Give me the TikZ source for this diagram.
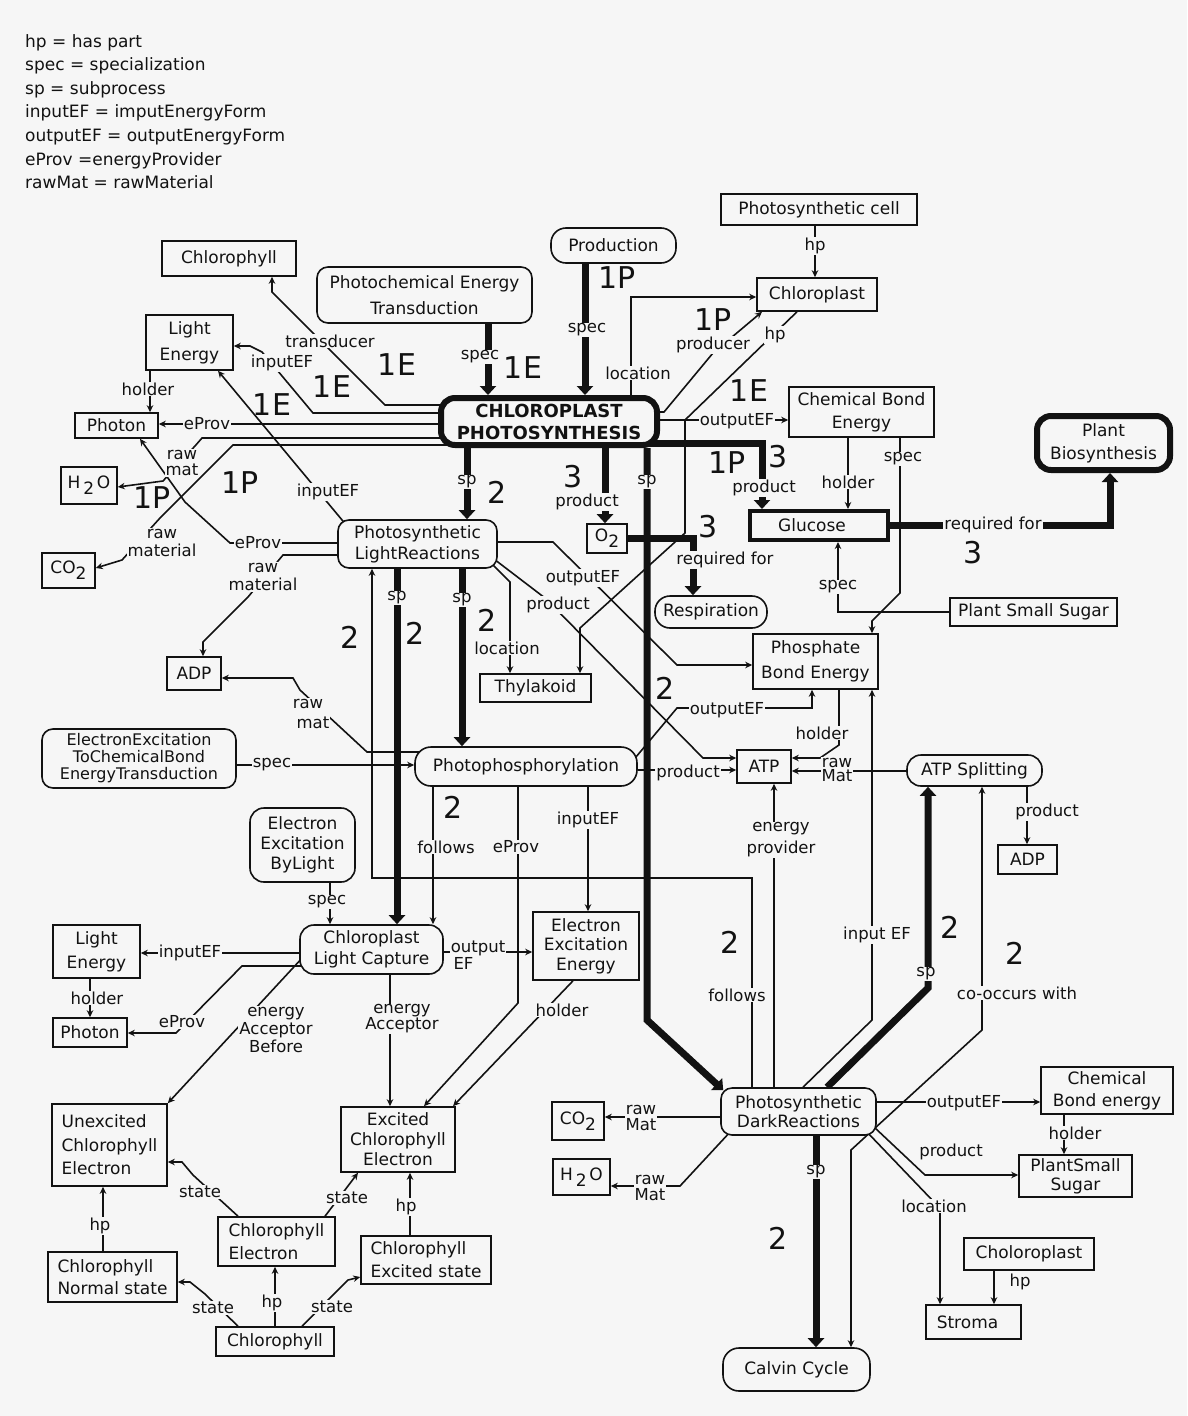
\documentclass[tikz,border=0pt]{standalone}
\usepackage{fontspec}
\setmainfont{DejaVu Sans}
\usetikzlibrary{arrows.meta,calc}
\pgfdeclarelayer{bgfill}
\pgfdeclarelayer{edges}
\pgfsetlayers{bgfill,edges,main}
\definecolor{bgc}{RGB}{246,246,246}
\definecolor{ink}{RGB}{18,18,18}
\newcommand\myfs[2]{\fontsize{#1}{#2}\selectfont}
\newcommand\subtwo{\raisebox{-0.35em}{2}}
\tikzset{
 box/.style={draw=ink, line width=1.6pt, fill=bgc, inner sep=1pt, align=center, text=ink, font=\myfs{17}{21}},
 rbox/.style={box, rounded corners=11pt},
 tbox/.style={box, line width=6pt, rounded corners=14pt},
 ln/.style={draw=ink, line width=1.6pt},
 arr/.style={ln, -{Stealth[length=7pt,width=6.5pt]}},
 barr/.style={ln, {Stealth[length=7pt,width=6.5pt]}-{Stealth[length=7pt,width=6.5pt]}},
 tk/.style={draw=ink, line width=7pt},
 tarr/.style={tk, -{Triangle[length=9pt,width=16pt]}},
 lb/.style={fill=bgc, inner sep=1pt, align=center, text=ink, font=\myfs{16.5}{17}},
 big/.style={inner sep=0pt, text=ink, font=\myfs{30}{30}},
}
\begin{document}
\begin{tikzpicture}[x=1pt,y=-1pt]
\useasboundingbox (0,0) rectangle (1187,1416);
\begin{pgfonlayer}{bgfill}
\fill[bgc] (0,0) rectangle (1187,1416);
\end{pgfonlayer}

% legend
\node[anchor=north west, align=left, inner sep=0pt, text=ink, font=\myfs{17}{23.6}] (legend) at (25,34)
 {hp = has part\\spec = specialization\\sp = subprocess\\inputEF = imputEnergyForm\\outputEF = outputEnergyForm\\eProv =energyProvider\\rawMat = rawMaterial};

% nodes
\node[box, minimum width=134pt, minimum height=35pt] (chlA) at (229,258.5) {Chlorophyll};
\node[rbox, minimum width=215pt, minimum height=56pt, font=\myfs{17}{26}] (pet) at (424.5,295) {Photochemical Energy\\Transduction};
\node[box, minimum width=87pt, minimum height=55pt, font=\myfs{17}{26}] (leA) at (189.5,342.5) {Light\\Energy};
\node[box, minimum width=83pt, minimum height=25pt] (phA) at (116.5,425.5) {Photon};
\node[box, minimum width=56pt, minimum height=37pt] (h2oA) at (89,485.5) {H\,\subtwo\,O};
\node[box, minimum width=53pt, minimum height=35pt] (co2A) at (68.5,570.5) {CO\subtwo};
\node[tbox, minimum width=216pt, minimum height=47pt, font=\bfseries\myfs{18}{22}] (cp) at (549,421.5) {CHLOROPLAST\\PHOTOSYNTHESIS};
\node[rbox, minimum width=125pt, minimum height=35pt, rounded corners=15pt] (prod) at (613.5,245.5) {Production};
\node[box, minimum width=196pt, minimum height=31pt] (pcell) at (819,209.5) {Photosynthetic cell};
\node[box, minimum width=120pt, minimum height=33pt] (chlp) at (817,294.5) {Chloroplast};
\node[box, minimum width=145pt, minimum height=50pt, font=\myfs{17}{23}] (cbe) at (861.5,412) {Chemical Bond\\Energy};
\node[tbox, minimum width=133pt, minimum height=54pt, font=\myfs{17}{23}] (pb) at (1103.5,443) {Plant\\Biosynthesis};
\node[box, line width=4pt, minimum width=138pt, minimum height=29pt] (glu) at (819,525.5) {Glucose\hspace{14pt}};
\node[box, minimum width=40pt, minimum height=29pt] (o2) at (607,538.5) {O\subtwo};
\node[rbox, minimum width=159pt, minimum height=48pt] (lr) at (417.5,544) {Photosynthetic\\LightReactions};
\node[rbox, minimum width=112pt, minimum height=32pt, rounded corners=15pt] (resp) at (711,612) {Respiration};
\node[box, minimum width=167pt, minimum height=28pt] (pss) at (1033.5,612) {Plant Small Sugar};
\node[box, minimum width=125pt, minimum height=55pt, font=\myfs{17}{25}] (pbe) at (815.5,661.5) {Phosphate\\Bond Energy};
\node[box, minimum width=111pt, minimum height=28pt] (thy) at (535.5,688) {Thylakoid};
\node[box, minimum width=54pt, minimum height=33pt] (adpA) at (194,673.5) {ADP};
\node[rbox, minimum width=194pt, minimum height=59pt, font=\myfs{16}{17}] (eet) at (139,758.5) {ElectronExcitation\\ToChemicalBond\\EnergyTransduction};
\node[rbox, minimum width=222pt, minimum height=39pt, rounded corners=16pt] (pp) at (526,766.5) {Photophosphorylation};
\node[box, minimum width=54pt, minimum height=33pt] (atp) at (764,766.5) {ATP};
\node[rbox, minimum width=135pt, minimum height=31pt, rounded corners=14pt] (atps) at (974.5,770.5) {ATP Splitting};
\node[box, minimum width=59pt, minimum height=29pt] (adpB) at (1027.5,859.5) {ADP};
\node[rbox, minimum width=105pt, minimum height=74pt, rounded corners=14pt, font=\myfs{17}{20}] (eebl) at (302.5,845) {Electron\\Excitation\\ByLight};
\node[box, minimum width=87pt, minimum height=53pt, font=\myfs{17}{24}] (leB) at (96.5,951.5) {Light\\Energy};
\node[box, minimum width=74pt, minimum height=29pt] (phB) at (90,1032.5) {Photon};
\node[rbox, minimum width=143pt, minimum height=49pt, rounded corners=14pt] (lc) at (371.5,949.5) {Chloroplast\\Light Capture};
\node[box, minimum width=106pt, minimum height=68pt, font=\myfs{17}{19.5}] (eee) at (586,946) {Electron\\Excitation\\Energy};
\node[box, minimum width=115pt, minimum height=82pt, align=left, font=\myfs{17}{23.5}] (uce) at (109.5,1145) {Unexcited\\Chlorophyll\\Electron};
\node[box, minimum width=114pt, minimum height=65pt, font=\myfs{17}{20}] (ece) at (398,1139.5) {Excited\\Chlorophyll\\Electron};
\node[box, minimum width=117pt, minimum height=49pt, align=left, font=\myfs{17}{23}] (ce) at (276.5,1241.5) {Chlorophyll\\Electron};
\node[box, minimum width=130pt, minimum height=48pt, align=left, font=\myfs{17}{23}] (ces) at (426,1260) {Chlorophyll\\Excited state};
\node[box, minimum width=129pt, minimum height=50pt, align=left, font=\myfs{17}{22}] (cns) at (112.5,1277) {Chlorophyll\\Normal state};
\node[box, minimum width=118pt, minimum height=29pt] (chlB) at (275,1341.5) {Chlorophyll};
\node[rbox, minimum width=155pt, minimum height=47pt, font=\myfs{17}{19}] (dr) at (798.5,1111.5) {Photosynthetic\\DarkReactions};
\node[box, minimum width=52pt, minimum height=38pt] (co2B) at (578,1121) {CO\subtwo};
\node[box, minimum width=57pt, minimum height=36pt] (h2oB) at (581.5,1177) {H\,\subtwo\,O};
\node[rbox, minimum width=147pt, minimum height=43pt, rounded corners=16pt] (calvin) at (796.5,1369.5) {Calvin Cycle};
\node[box, minimum width=132pt, minimum height=47pt, font=\myfs{17}{22}] (cbeB) at (1107,1090.5) {Chemical\\Bond energy};
\node[box, minimum width=113pt, minimum height=42pt, font=\myfs{17}{19}] (pssB) at (1075.5,1176) {PlantSmall\\Sugar};
\node[box, minimum width=130pt, minimum height=32pt] (cholo) at (1029,1254) {Choloroplast};
\node[box, minimum width=95pt, minimum height=34pt] (stroma) at (973.5,1322) {Stroma\hspace{12pt}};

\begin{pgfonlayer}{edges}
% top area
\draw[tarr] (pet.south -| 488,0) -- (cp.north -| 488,0);
\draw[tarr] (prod.south -| 585,0) -- (cp.north -| 585,0);
\draw[arr] (cp.center -| 631,0) |- (chlp.west |- 0,297);
\draw[arr] (cp.center |- 0,412) -- (664,412) -- (713,353) -- (chlp.south -| 762,0);
\draw[arr] (chlp.south -| 797,0) -- (685,420) -- (685,533) -- (580,628) -- (thy.north -| 580,0);
\draw[arr] (cp.center |- 0,420) -- (cbe.west |- 0,420);
\draw[tarr] (cp.center |- 0,443) -| (glu.north -| 762,0);
\draw[arr] (cbe.south -| 848,0) -- (glu.north -| 848,0);
\draw[arr] (cbe.south -| 900,0) -- (900,593) -- (872,621) -- (pbe.north -| 872,0);
\draw[arr] (pss.west) -| (glu.south -| 838,0);
\draw[tarr] (glu.east) -| (pb.south -| 1110,0);
\draw[arr] (pcell.south -| 815,0) -- (chlp.north -| 815,0);
% CP down
\draw[tarr] (cp.south -| 467,0) -- (lr.north -| 467,0);
\draw[tarr] (cp.south -| 605,0) -- (o2.north -| 605,0);
\draw[tarr] (cp.south -| 647,0) -- (647,1020) -- ($(dr.north west)+(3,3)$);
\draw[tarr] (o2.east) -| (resp.north -| 693,0);
% CP left
\draw[arr] (cp.center |- 0,405) -- (385,405) -- (272,292) -- (chlA.south -| 272,0);
\draw[arr] (cp.center |- 0,413) -- (313,413) -- (262,352) -- (250,346) -- (leA.east |- 0,346);
\draw[arr] (cp.center |- 0,424) -- (phA.east |- 0,424);
\draw[arr] (cp.center |- 0,438) -- (202,438) -- (195,446) -- (163,481) -- (h2oA.east |- 0,487);
\draw[arr] (cp.center |- 0,445) -- (233,445) -- (160,518) -- (122,560) -- (co2A.east |- 0,568);
\draw[arr] (leA.south -| 150,0) -- (phA.north -| 150,0);
\draw[arr] (lr.center -| 362,0) -- (leA.south -| 218,0);
% light reactions
\draw[arr] (lr.center |- 0,543) -- (230,543) -- (185,502) -- (phA.south -| 140,0);
\draw[arr] (lr.center |- 0,555) -- (283,555) -- (248,597) -- (203,642) -- (adpA.north -| 203,0);
\draw[arr] (lr.center |- 0,542) -- (553,542) -- (677,665) -- (pbe.west |- 0,665);
\draw[arr] (lr.center |- 0,556) -- (490,556) -- (545,598) -- (703,758) -- (atp.west |- 0,758);
\draw[arr] (lr.center |- 0,560) -- (488,560) -- (510,582) -- (thy.north -| 510,0);
\draw[tarr] (lr.south -| 462,0) -- (pp.north -| 462,0);
\draw[tarr] (lr.south -| 397,0) -- (lc.north -| 397,0);
\draw[arr] (dr.north -| 752,0) |- (372,878) -- (lr.south -| 372,0);
% photophosphorylation
\draw[arr] (eet.east |- 0,765) -- (pp.west |- 0,765);
\draw[arr] (pp.center |- 0,752) -- (367,752) -- (300,690) -- (293,678) -- (adpA.east |- 0,678);
\draw[arr] (pp.south -| 433,0) -- (lc.north -| 433,0);
\draw[arr] (pp.south -| 518,0) -- (518,1003) -- (ece.north -| 424,0);
\draw[arr] (pp.south -| 588,0) -- (eee.north -| 588,0);
\draw[arr] (pp.east |- 0,770) -- (atp.west |- 0,770);
\draw[arr] (pp.center -| 628,0) -- (677,708) -- (812,708) -- (pbe.south -| 812,0);
\draw[arr] (pbe.south -| 839,0) -- (839,745) -- (820,758) -- (atp.east |- 0,758);
\draw[arr] (atps.west |- 0,771) -- (atp.east |- 0,771);
\draw[arr] (atps.south -| 1027,0) -- (adpB.north -| 1027,0);
% dark reactions
\draw[arr] (dr.north -| 774,0) -- (atp.south -| 774,0);
\draw[arr] (dr.north -| 803,0) -- (872,1020) -- (pbe.south -| 872,0);
\draw[tarr] (dr.north -| 827,0) -- (928,988) -- (atps.south -| 928,0);
\draw[barr] (calvin.north -| 851,0) -- (851,1150) -- (982,1030) -- (atps.south -| 982,0);
\draw[arr] (dr.east |- 0,1102) -- (cbeB.west |- 0,1102);
\draw[arr] (cbeB.south -| 1064,0) -- (pssB.north -| 1064,0);
\draw[arr] (dr.center |- 0,1127) -- (874,1127) -- (925,1175) -- (pssB.west |- 0,1175);
\draw[arr] (dr.center |- 0,1131) -- (866,1131) -- (934,1202) -- (940,1212) -- (stroma.north -| 940,0);
\draw[arr] (cholo.south -| 994,0) -- (stroma.north -| 994,0);
\draw[tarr] (dr.south -| 816,0) -- (calvin.north -| 816,0);
\draw[arr] (dr.west |- 0,1117) -- (co2B.east |- 0,1117);
\draw[arr] (dr.center |- 0,1131) -- (731,1131) -- (680,1186) -- (h2oB.east |- 0,1186);
% light capture
\draw[arr] (eebl.south -| 330,0) -- (lc.north -| 330,0);
\draw[arr] (lc.west |- 0,953) -- (leB.east |- 0,953);
\draw[arr] (lc.center |- 0,966) -- (242,966) -- (176,1033) -- (phB.east |- 0,1033);
\draw[arr] (leB.south -| 90,0) -- (phB.north -| 90,0);
\draw[arr] (lc.center -| 310,0) -- (uce.north east);
\draw[arr] (lc.south -| 390,0) -- (ece.north -| 390,0);
\draw[arr] (lc.east |- 0,952) -- (eee.west |- 0,952);
\draw[arr] (eee.south -| 573,0) -- (ece.north -| 453,0);
% chlorophyll states
\draw[arr] (cns.north -| 103,0) -- (uce.south -| 103,0);
\draw[arr] (ce.north -| 238,0) -- (193,1175) -- (182,1162) -- (uce.east |- 0,1162);
\draw[arr] (ce.north -| 325,0) -- (ece.south -| 358,0);
\draw[arr] (ces.north -| 410,0) -- (ece.south -| 410,0);
\draw[arr] (chlB.north -| 238,0) -- (205,1294) -- (190,1282) -- (cns.east |- 0,1282);
\draw[arr] (chlB.north -| 275,0) -- (ce.south -| 275,0);
\draw[arr] (chlB.north -| 302,0) -- (348,1280) -- (ces.west |- 0,1277);
\end{pgfonlayer}

% edge labels
\node[lb] (l1) at (480,357) {spec};
\node[lb] (l2) at (587,330) {spec};
\node[lb] (l3) at (638,373) {location};
\node[lb] (l4) at (713,345) {producer};
\node[lb] (l5) at (775,335) {hp};
\node[lb] (l6) at (737,421) {outputEF};
\node[lb] (l7) at (764,488) {product};
\node[lb] (l8) at (848,482) {holder};
\node[lb] (l9) at (903,459) {spec};
\node[lb] (l10) at (838,587) {spec};
\node[lb] (l11) at (993,525) {required for};
\node[lb] (l12) at (467,482) {sp};
\node[lb] (l13) at (587,502) {product};
\node[lb] (l14) at (647,482) {sp};
\node[lb] (l15) at (725,560) {required for};
\node[lb] (l16) at (583,578) {outputEF};
\node[lb] (l17) at (558,605) {product};
\node[lb] (l18) at (507,648) {location};
\node[lb] (l19) at (462,600) {sp};
\node[lb] (l20) at (397,598) {sp};
\node[lb] (l21) at (737,995) {follows};
\node[lb] (l22) at (446,847) {follows};
\node[lb] (l23) at (516,847) {eProv};
\node[lb] (l24) at (588,820) {inputEF};
\node[lb] (l25) at (688,773) {product};
\node[lb] (l26) at (727,710) {outputEF};
\node[lb] (l27) at (822,733) {holder};
\node[lb, font=\myfs{16.5}{14}] (l28) at (837,770) {raw\\Mat};
\node[lb, font=\myfs{16.5}{22}] (l29) at (781,840) {energy\\provider};
\node[lb] (l30) at (877,935) {input EF};
\node[lb] (l31) at (926,974) {sp};
\node[lb] (l32) at (1017,993) {co-occurs with};
\node[lb] (l33) at (1047,812) {product};
\node[lb] (l34) at (964,1103) {outputEF};
\node[lb] (l35) at (1075,1133) {holder};
\node[lb] (l36) at (951,1152) {product};
\node[lb] (l37) at (934,1206) {location};
\node[lb] (l38) at (1020,1282) {hp};
\node[lb] (l39) at (816,1172) {sp};
\node[lb, font=\myfs{16.5}{16}] (l40) at (641,1118) {raw\\Mat};
\node[lb, font=\myfs{16.5}{16}] (l41) at (650,1188) {raw\\Mat};
\node[lb] (l42) at (190,953) {inputEF};
\node[lb] (l43) at (182,1022) {eProv};
\node[lb] (l44) at (97,998) {holder};
\node[lb, font=\myfs{16.5}{18}] (l45) at (276,1030) {energy\\Acceptor\\Before};
\node[lb, font=\myfs{16.5}{16}] (l46) at (402,1019) {energy\\Acceptor};
\node[lb, align=left, font=\myfs{16.5}{17}] (l47) at (478,955) {output\\\,EF};
\node[lb] (l48) at (562,1010) {holder};
\node[lb] (l49) at (327,902) {spec};
\node[lb] (l50) at (272,765) {spec};
\node[lb, font=\myfs{16.5}{20}] (l51) at (308,714) {raw\\\hspace{10pt}mat};
\node[lb, font=\myfs{16.5}{18}] (l52) at (263,577) {raw\\material};
\node[lb] (l53) at (258,543) {eProv};
\node[lb, font=\myfs{16.5}{18}] (l54) at (162,543) {raw\\material};
\node[lb, font=\myfs{16.5}{16}] (l55) at (182,463) {raw\\mat};
\node[lb] (l56) at (207,424) {eProv};
\node[lb] (l57) at (282,363) {inputEF};
\node[lb] (l58) at (330,341) {transducer};
\node[lb] (l59) at (148,389) {holder};
\node[lb] (l60) at (328,492) {inputEF};
\node[lb] (l61) at (815,246) {hp};
\node[lb] (l62) at (100,1226) {hp};
\node[lb] (l63) at (200,1192) {state};
\node[lb] (l64) at (347,1198) {state};
\node[lb] (l65) at (406,1207) {hp};
\node[lb] (l66) at (213,1308) {state};
\node[lb] (l67) at (272,1303) {hp};
\node[lb] (l68) at (332,1307) {state};

% big weights
\node[big] (n1) at (523,368) {1E};
\node[big] (n2) at (397,365) {1E};
\node[big] (n3) at (332,387) {1E};
\node[big] (n4) at (272,405) {1E};
\node[big] (n5) at (749,391) {1E};
\node[big] (n6) at (617,278) {1P};
\node[big] (n7) at (713,320) {1P};
\node[big] (n8) at (727,463) {1P};
\node[big] (n9) at (240,483) {1P};
\node[big] (n10) at (152,498) {1P};
\node[big] (n11) at (497,492) {2};
\node[big] (n12) at (665,688) {2};
\node[big] (n13) at (350,637) {2};
\node[big] (n14) at (415,633) {2};
\node[big] (n15) at (487,620) {2};
\node[big] (n16) at (453,807) {2};
\node[big] (n17) at (730,942) {2};
\node[big] (n18) at (950,927) {2};
\node[big] (n19) at (1015,953) {2};
\node[big] (n20) at (778,1238) {2};
\node[big] (n21) at (573,477) {3};
\node[big] (n22) at (778,457) {3};
\node[big] (n23) at (708,527) {3};
\node[big] (n24) at (973,553) {3};
\end{tikzpicture}
\end{document}
